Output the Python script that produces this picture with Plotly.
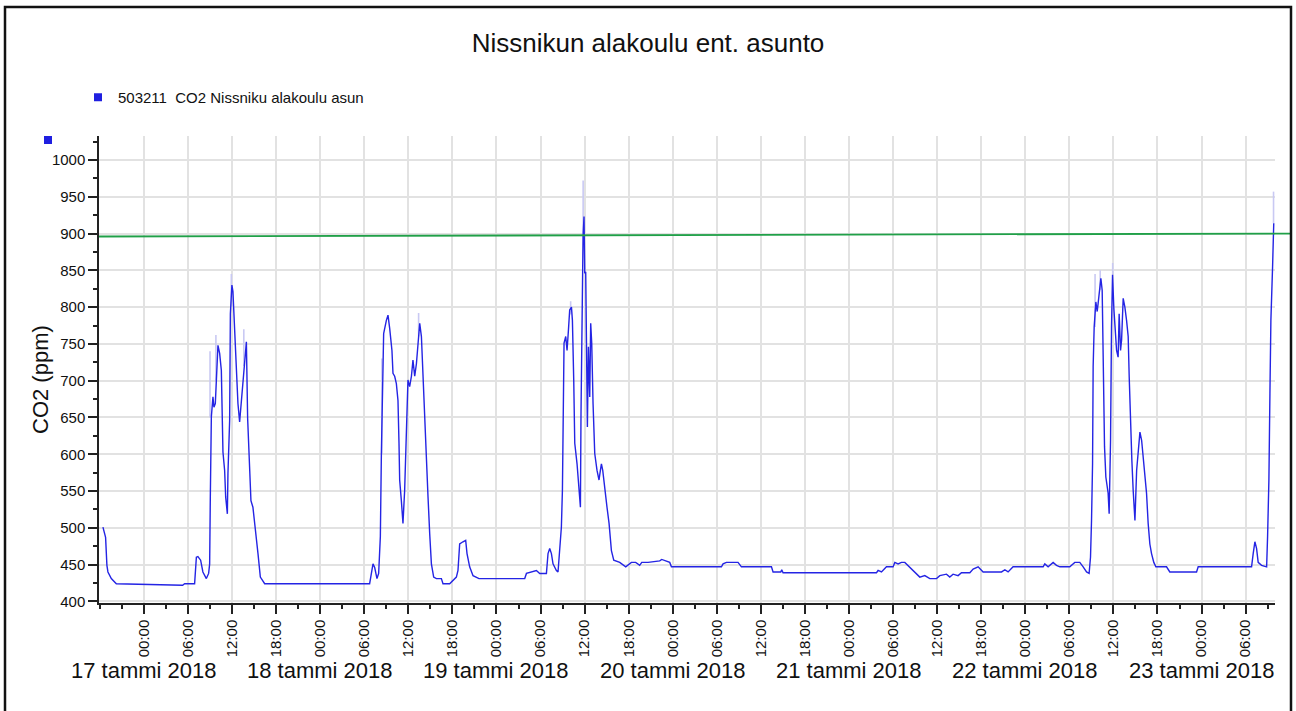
import pandas as pd
import plotly.graph_objects as go

# ---------------- data ----------------
base_time = "2018-01-17 00:00"
# hours relative to 17 Jan 2018 00:00
co2_hours = [
    -5.58, -5.22, -5.04, -4.90, -4.44, -3.76, 5.27, 5.54, 6.90, 7.14, 7.35, 7.72, 8.03, 8.50, 8.81, 8.95,
    9.04, 9.18, 9.40, 9.53, 9.72, 9.94, 10.08, 10.31, 10.54, 10.76, 10.99, 11.13, 11.36, 11.44, 11.67,
    11.77, 11.98, 12.12, 12.26, 12.58, 12.80, 13.03, 13.26, 13.48, 13.71, 13.95, 14.12, 14.40, 14.57,
    14.84, 15.21, 15.53, 15.85, 16.44,
    30.73, 31.19, 31.42, 31.73, 31.96, 32.19, 32.33, 32.47, 32.64, 33.01, 33.23, 33.46, 33.77, 33.91,
    34.14, 34.37, 34.59, 34.73, 34.82, 35.05, 35.27, 35.50, 35.64, 35.82, 35.95, 36.18, 36.42, 36.63,
    36.87, 37.10, 37.31, 37.55, 37.78, 38.00, 38.23, 38.46, 38.68, 38.91, 39.14, 39.45, 39.82, 40.50,
    40.72, 41.63, 42.08, 42.54, 42.76, 42.99, 43.44, 43.81, 43.99, 44.35, 44.81, 45.27, 45.62,
    51.85, 52.08, 53.44, 53.89, 54.80, 55.02, 55.25, 55.48, 55.70, 56.16, 56.38, 56.61, 56.84, 56.98,
    57.06, 57.20, 57.43, 57.61, 57.80, 57.97, 58.21, 58.34, 58.52, 58.66, 58.97, 59.24, 59.43, 59.51,
    59.65, 59.79, 59.92, 60.02, 60.15, 60.25, 60.38, 60.52, 60.70, 60.83, 60.97, 61.15, 61.38, 61.69,
    61.96, 62.15, 62.29, 62.47, 62.74, 63.05, 63.33, 63.65, 63.97, 64.78, 65.60, 65.91, 66.37, 66.96,
    67.50, 67.78, 68.64, 70.23, 70.50, 71.59, 71.82, 78.63, 78.85, 79.31, 80.89, 81.35, 85.44, 85.66,
    86.71, 86.84, 87.02, 99.74, 99.96, 100.42, 101.10, 102.00, 102.24, 102.68, 103.14, 103.60, 104.03,
    104.73, 105.19, 105.64, 106.32, 107.00, 107.91, 108.36, 109.27, 109.72, 110.17, 110.85, 111.31,
    112.45, 112.90, 113.58, 114.26, 116.77, 117.22, 117.66, 118.34, 122.43, 122.66, 123.11, 123.79,
    124.25, 124.70, 126.06, 126.74, 127.42, 127.88, 128.34, 128.69, 128.88, 129.02, 129.16, 129.24,
    129.38, 129.61, 129.79, 129.92, 130.15, 130.29, 130.47, 130.60, 130.79, 130.97, 131.28, 131.42,
    131.61, 131.74, 131.88, 132.06, 132.24, 132.43, 132.64, 132.78, 132.97, 133.11, 133.33, 133.56,
    133.79, 134.01, 134.15, 134.34, 134.51, 134.69, 134.93, 135.16, 135.38, 135.61, 135.84, 136.05,
    136.28, 136.51, 136.73, 136.96, 137.19, 137.50, 137.78, 139.23, 139.68, 143.32, 143.54, 150.81,
    151.03, 151.26, 151.49, 151.71, 152.17, 152.62, 152.86, 152.99, 153.17, 153.31, 153.44, 153.67,
    153.83,
]
co2_ppm = [
    501, 487, 449, 440, 431, 424, 422, 424, 424, 460, 461, 456, 440, 431, 438, 451,
    542, 651, 678, 664, 669, 735, 748, 737, 714, 603, 578, 542, 519, 574, 646,
    791, 830, 821, 785, 701, 669, 644, 673, 705, 732, 753, 649, 569, 537,
    528, 497, 465, 433, 424,
    424, 451, 446, 431, 438, 488, 601, 710, 764, 782, 789, 771, 741, 710,
    706, 696, 673, 615, 565, 537, 506, 551, 605, 673, 701, 692, 706, 728,
    706, 723, 755, 778, 760, 701, 642, 592, 542, 492, 451, 433, 431, 431,
    424, 424, 428, 433, 442, 478, 481, 483, 465, 447, 435, 433, 431,
    431, 438, 442, 438, 438, 465, 472, 465, 451, 442, 440, 474, 501, 551,
    669, 751, 760, 741, 769, 796, 800, 782, 701, 615, 587, 551, 528, 655,
    841, 896, 923, 846, 848, 751, 637, 746, 678, 778, 751, 669, 601, 578,
    565, 578, 587, 578, 551, 528, 506, 469, 456, 453, 447, 449, 453, 453,
    449, 453, 453, 455, 457, 453, 447, 447, 451, 453, 453, 447, 447, 440,
    440, 443, 439, 439, 442, 440, 447, 447, 453, 451, 453, 453, 449,
    442, 438, 433, 435, 431, 431, 435, 437, 433, 437, 435, 439,
    439, 444, 447, 440, 440, 443, 440, 447, 447, 451, 447, 453,
    449, 447, 447, 453, 453, 447, 440, 438, 460, 510, 587, 719,
    773, 807, 794, 805, 823, 839, 823, 707, 610, 569, 547, 519,
    619, 773, 844, 798, 769, 741, 732, 791, 741, 755, 812, 800,
    782, 760, 705, 637, 592, 551, 510, 578, 610, 630, 619, 596,
    574, 547, 506, 478, 465, 453, 447, 447, 440, 440, 447, 447,
    465, 481, 472, 453, 449, 447, 447, 488, 565, 683, 782, 855,
    914,
]
# lighter min/max envelope spikes: time (h), low, high
spike_hours = [9.00, 9.80, 11.90, 13.60, 32.40, 37.40, 58.10, 59.80, 129.50, 130.20, 131.90, 153.80]
spike_low = [650, 700, 800, 720, 600, 760, 790, 896, 773, 823, 844, 914]
spike_high = [740, 762, 845, 770, 730, 792, 808, 972, 845, 850, 860, 957]

limit_ppm = [896, 900]

series_name = "503211  CO2 Nissniku alakoulu asun"
title_text = "Nissnikun alakoulu ent. asunto"
y_title = "CO2 (ppm)"
day_labels = ["17 tammi 2018", "18 tammi 2018", "19 tammi 2018", "20 tammi 2018",
              "21 tammi 2018", "22 tammi 2018", "23 tammi 2018"]
day_dates = ["2018-01-17", "2018-01-18", "2018-01-19", "2018-01-20",
             "2018-01-21", "2018-01-22", "2018-01-23"]
hour_tick_labels = ["00:00", "06:00", "12:00", "18:00"]
y_ticks = [400, 450, 500, 550, 600, 650, 700, 750, 800, 850, 900, 950, 1000]

# ---------------- build ----------------
t0 = pd.Timestamp(base_time)
co2_time = [t0 + pd.to_timedelta(h, unit="h") for h in co2_hours]

sx, sy = [], []
for h, lo, hi in zip(spike_hours, spike_low, spike_high):
    tt = t0 + pd.to_timedelta(h, unit="h")
    sx += [tt, tt, None]
    sy += [lo, hi, None]

x_range = [pd.Timestamp("2018-01-16 17:53"), pd.Timestamp("2018-01-23 10:00")]
tickvals = pd.date_range("2018-01-17 00:00", "2018-01-23 06:00", freq="6h")
ticktext = [hour_tick_labels[(ts.hour // 6)] for ts in tickvals]

FONT = "Liberation Sans, Arial, sans-serif"
BLUE = "#2424e4"

# layout geometry (pixels)
W, H = 1296, 711
L, R, T, B = 99, 21, 136, 108
PW, PH = W - L - R, H - T - B


def px(xp):
    return (xp - L) / PW


def py(yp):
    return (H - B - yp) / PH


fig = go.Figure()
fig.add_trace(go.Scatter(x=sx, y=sy, mode="lines", line=dict(color="#c9c9f3", width=1.6),
                         showlegend=False, hoverinfo="skip", connectgaps=False))
fig.add_trace(go.Scatter(x=co2_time, y=co2_ppm, mode="lines", name=series_name,
                         line=dict(color=BLUE, width=1.4), showlegend=False))
fig.add_trace(go.Scatter(x=[None], y=[None], mode="markers", name=series_name,
                         marker=dict(symbol="square", size=8, color="#1f1fe0"), showlegend=True))

fig.update_layout(
    width=W, height=H,
    margin=dict(l=L, r=R, t=T, b=B),
    paper_bgcolor="white", plot_bgcolor="white",
    font=dict(family=FONT, color="#111"),
    title=dict(text=title_text, x=0.5, xref="container", xanchor="center",
               y=1 - 43 / H, yref="container", yanchor="middle",
               font=dict(size=26, family=FONT, color="#111")),
    legend=dict(x=px(78), y=py(81), xanchor="left", yanchor="top",
                font=dict(size=15, family=FONT, color="#111"),
                bgcolor="rgba(0,0,0,0)", borderwidth=0),
    xaxis=dict(
        type="date", range=x_range,
        tickmode="array", tickvals=list(tickvals), ticktext=ticktext, tickangle=-90,
        tickfont=dict(size=15, family=FONT, color="#111"),
        ticks="outside", ticklen=9, tickwidth=1.5, tickcolor="#222",
        showgrid=True, gridcolor="#e2e2e2", gridwidth=1.5,
        showline=True, linecolor="#222", linewidth=1.5,
        zeroline=False,
        minor=dict(dtick=3 * 3600 * 1000, tick0="2018-01-17", ticks="outside", ticklen=4,
                   tickwidth=1.5, tickcolor="#222", showgrid=False),
    ),
    yaxis=dict(
        range=[397.8, 1032.6],
        tickmode="array", tickvals=y_ticks,
        tickfont=dict(size=15, family=FONT, color="#111"),
        ticks="outside", ticklen=9, tickwidth=1.5, tickcolor="#222",
        showgrid=True, gridcolor="#e2e2e2", gridwidth=1.5,
        showline=True, linecolor="#222", linewidth=1.5,
        zeroline=False,
        minor=dict(dtick=25, tick0=0, ticks="outside", ticklen=4, tickwidth=1.5,
                   tickcolor="#222", showgrid=False),
    ),
)

# threshold line (extends to the frame on the right)
fig.add_shape(type="line", xref="paper", yref="y", x0=0, x1=px(1290), y0=limit_ppm[0], y1=limit_ppm[1],
              line=dict(color="#20a048", width=1.8), layer="above")

# date labels under the hour ticks
for d, lab in zip(day_dates, day_labels):
    fig.add_annotation(x=pd.Timestamp(d), xref="x", y=py(670), yref="paper", text=lab,
                       showarrow=False, xanchor="center", yanchor="middle",
                       font=dict(size=22, family=FONT, color="#111"))

# y axis title
fig.add_annotation(x=px(40), xref="paper", y=py(380), yref="paper", text=y_title, textangle=-90,
                   showarrow=False, xanchor="center", yanchor="middle",
                   font=dict(size=22, family=FONT, color="#111"))

# small blue marker at top-left of axis
fig.add_shape(type="rect", xref="paper", yref="paper", x0=px(44), x1=px(52), y0=py(144), y1=py(136),
              line=dict(width=0), fillcolor="#1f1fe0")

# outer frame
fig.add_shape(type="rect", xref="paper", yref="paper", x0=px(5), x1=px(1291), y0=py(715), y1=py(7),
              line=dict(color="#111", width=2.5), fillcolor="rgba(0,0,0,0)")

fig.write_html("out.html", config={"displayModeBar": False},
               post_script="document.body.style.margin='0px';document.body.style.overflow='hidden';")
